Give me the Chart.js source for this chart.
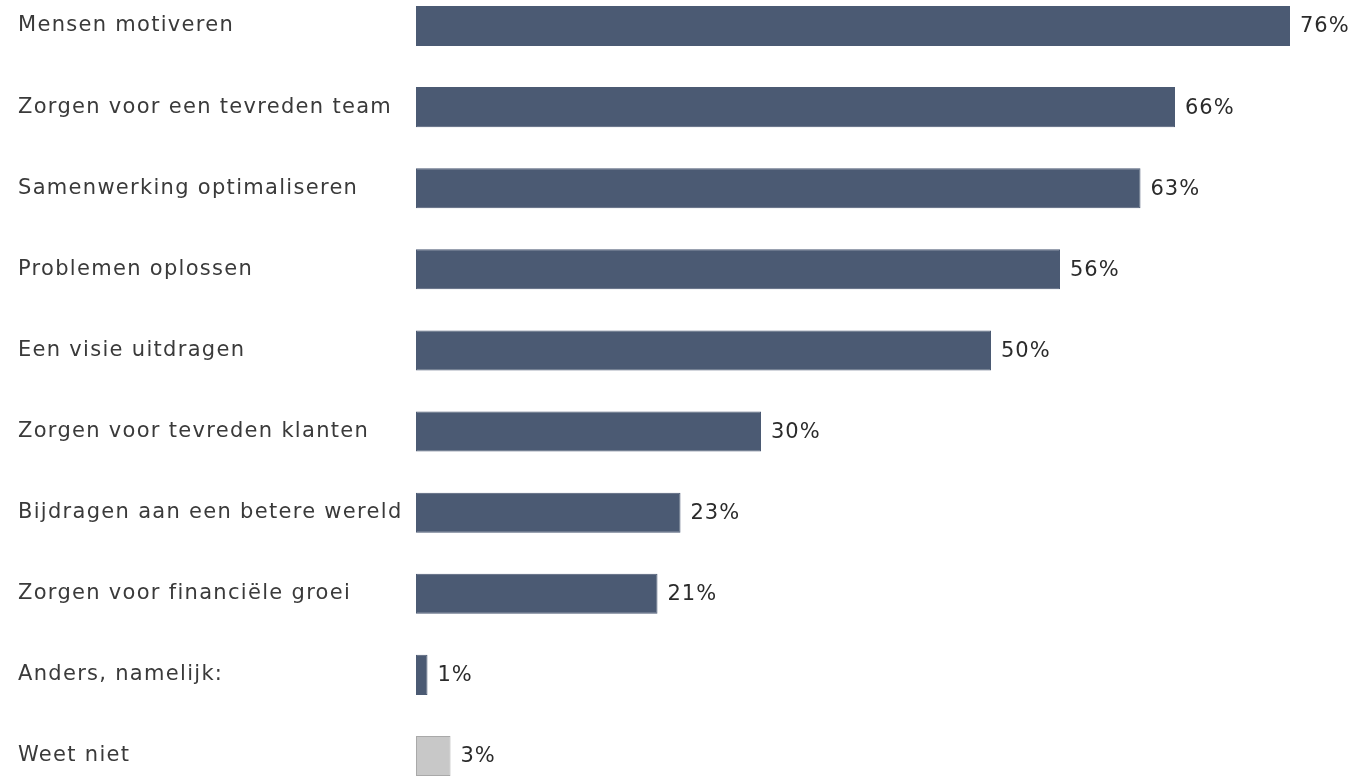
<!DOCTYPE html>
<html lang="nl">
<head>
<meta charset="utf-8">
<title>Belangrijkste taken van een leider</title>
<script src="https://cdn.jsdelivr.net/npm/chart.js@4/dist/chart.umd.min.js"></script>
<style>
  html, body {
    margin: 0;
    padding: 0;
    background: #ffffff;
    overflow: hidden;
  }
</style>
</head>
<body>
<canvas id="tasks-chart" width="1352" height="776"></canvas>
<script>
const categories = [
  "Mensen motiveren",
  "Zorgen voor een tevreden team",
  "Samenwerking optimaliseren",
  "Problemen oplossen",
  "Een visie uitdragen",
  "Zorgen voor tevreden klanten",
  "Bijdragen aan een betere wereld",
  "Zorgen voor financiële groei",
  "Anders, namelijk:",
  "Weet niet"
];
const percentages = [76, 66, 63, 56, 50, 30, 23, 21, 1, 3];

const BAR_COLOR = "#4b5a73";
const NEUTRAL_COLOR = "#c8c8c8";
const NEUTRAL_BORDER = "#a9a9a9";
const FONT_FAMILY = "'DejaVu Sans', Verdana, sans-serif";
const LETTER_SPACING = "1.3px";
const AXIS_WIDTH = 398;

const isNeutral = (index) => categories[index] === "Weet niet";

// Slightly tracked-out text for tick labels
const letterSpacingPlugin = {
  id: "letterSpacing",
  beforeDraw(chartInstance) {
    chartInstance.ctx.letterSpacing = LETTER_SPACING;
  },
  afterDraw(chartInstance) {
    chartInstance.ctx.letterSpacing = "0px";
  }
};

// Percentage text just past the end of each bar
const valueLabelPlugin = {
  id: "valueLabels",
  afterDatasetsDraw(chartInstance) {
    const { ctx } = chartInstance;
    const meta = chartInstance.getDatasetMeta(0);
    ctx.save();
    ctx.letterSpacing = "1px";
    ctx.font = `21px ${FONT_FAMILY}`;
    ctx.fillStyle = "#2b2b2b";
    ctx.textAlign = "left";
    ctx.textBaseline = "middle";
    meta.data.forEach((bar, index) => {
      ctx.fillText(`${percentages[index]}%`, bar.x + 10, bar.y + 1);
    });
    ctx.restore();
  }
};

new Chart(document.querySelector("#tasks-chart"), {
  type: "bar",
  plugins: [letterSpacingPlugin, valueLabelPlugin],
  data: {
    labels: categories,
    datasets: [
      {
        data: percentages,
        backgroundColor: (context) => (isNeutral(context.dataIndex) ? NEUTRAL_COLOR : BAR_COLOR),
        borderColor: (context) => (isNeutral(context.dataIndex) ? NEUTRAL_BORDER : BAR_COLOR),
        borderWidth: 1,
        borderSkipped: false,
        barPercentage: 0.494,
        categoryPercentage: 1,
        // first and last rows sit on the area edges, so let bars overflow it
        clip: false
      }
    ]
  },
  options: {
    indexAxis: "y",
    responsive: false,
    animation: false,
    layout: {
      padding: { left: 18, right: 16, top: 26, bottom: 20 }
    },
    plugins: {
      legend: { display: false },
      tooltip: { enabled: false }
    },
    scales: {
      x: {
        display: false,
        min: 0,
        max: 80
      },
      y: {
        offset: false,
        grid: { display: false },
        border: { display: false },
        afterFit(scale) {
          scale.width = AXIS_WIDTH;
        },
        ticks: {
          autoSkip: false,
          crossAlign: "far",
          color: "#3a3a3a",
          font: { family: FONT_FAMILY, size: 21 }
        }
      }
    }
  }
});
</script>
</body>
</html>
